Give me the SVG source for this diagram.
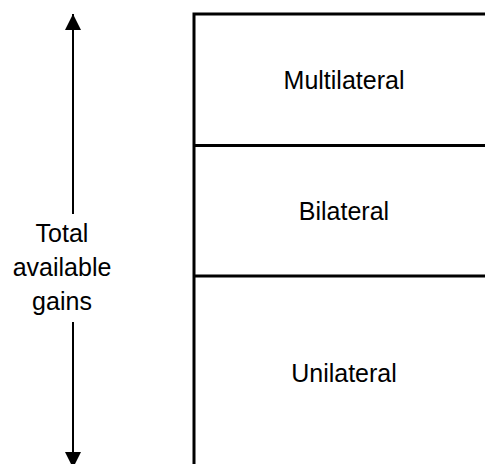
<svg xmlns="http://www.w3.org/2000/svg" width="485" height="464" viewBox="0 0 485 464">
<style>
text{font-family:"Liberation Sans",Arial,sans-serif;font-size:25px;fill:#000;text-anchor:middle}
.edge{stroke:#000;stroke-width:3;fill:none}
.arr{stroke:#000;stroke-width:2;fill:none}
</style>
<defs>
<marker id="ah" markerWidth="16" markerHeight="16" refX="16" refY="8" orient="auto" markerUnits="userSpaceOnUse" viewBox="0 0 16 16">
<path d="M0,0 L16,8 L0,16 Z" fill="#000"/>
</marker>
</defs>
<rect width="485" height="464" fill="#fff"/>
<g id="connectors">
<line class="arr" x1="73" y1="214" x2="73" y2="14" marker-end="url(#ah)"/>
<line class="arr" x1="73" y1="322" x2="73" y2="468" marker-end="url(#ah)"/>
</g>
<g id="multilateral">
<path class="edge" d="M194,470 L194,14 L490,14"/>
<text x="344" y="89">Multilateral</text>
</g>
<g id="bilateral">
<line class="edge" x1="194" y1="145.5" x2="490" y2="145.5"/>
<text x="344" y="219.5">Bilateral</text>
</g>
<g id="unilateral">
<line class="edge" x1="194" y1="276" x2="490" y2="276"/>
<text x="344" y="382">Unilateral</text>
</g>
<g id="total-label">
<text x="62" y="241.5">Total</text>
<text x="62" y="275.5">available</text>
<text x="62" y="309.5">gains</text>
</g>
</svg>
